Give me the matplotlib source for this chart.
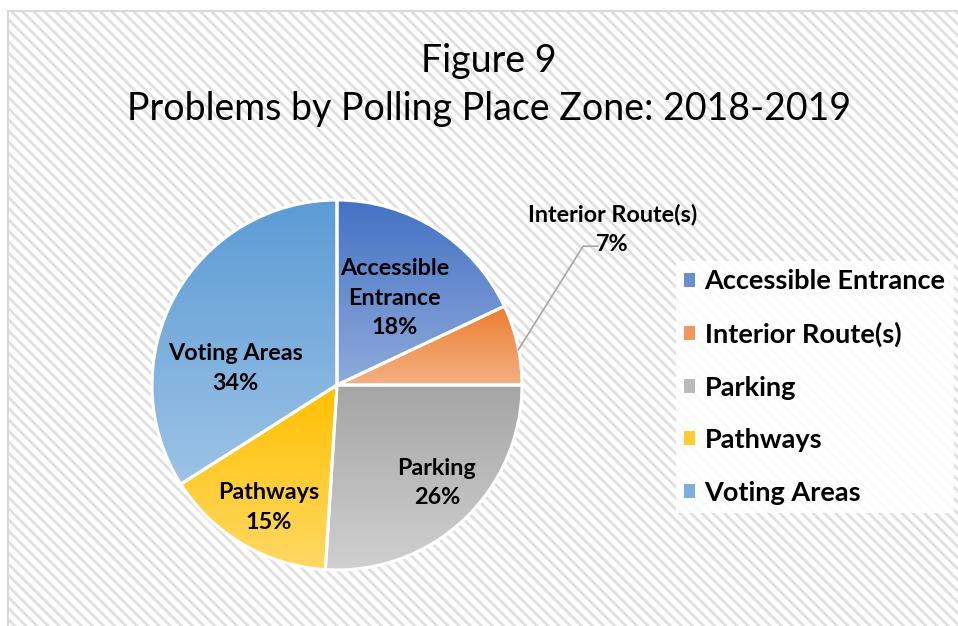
import numpy as np
import matplotlib
matplotlib.use("Agg")
import matplotlib.pyplot as plt
import matplotlib.patches as mpatches
from matplotlib.colors import LinearSegmentedColormap

# data ------------------------------------------------------------#
zones = ['Accessible Entrance', 'Interior Route(s)', 'Parking', 'Pathways', 'Voting Areas']
share = [18, 7, 26, 15, 34]
label_text = ['Accessible\nEntrance\n18%', 'Interior Route(s)\n7%', 'Parking\n26%',
              'Pathways\n15%', 'Voting Areas\n34%']

top_col = ['#4472C4', '#ED7D31', '#A5A5A5', '#FFC000', '#5B9BD5']
bot_col = ['#8FAADC', '#F4B183', '#D0D0D0', '#FFD966', '#9DC3E6']
mid_col = ['#6A8ED0', '#F09760', '#BBBBBB', '#FFCC33', '#7CAFDD']

# label centres in radius units (Excel "best fit" places them by hand)
label_xy = [(0.31, 0.47), (1.49, 0.84), (0.54, -0.53), (-0.37, -0.66), (-0.55, 0.09)]

W, H = 958, 626
plt.rcParams['font.family'] = ['Lato', 'DejaVu Sans']
plt.rcParams['hatch.linewidth'] = 2.0

fig = plt.figure(figsize=(W/100, H/100), dpi=100)

# hatched chart area ----------------------------------------------#
bg = mpatches.Rectangle((8/W, -0.05), 1.0, 1 - 11/H + 0.05, transform=fig.transFigure,
                        facecolor='white', edgecolor='#e0e0e0', lw=0, hatch='\\\\\\', zorder=-5)
fig.add_artist(bg)
fig.add_artist(mpatches.Rectangle((8/W, -0.05), 1.0, 1 - 11/H + 0.05, transform=fig.transFigure,
                                  facecolor='none', edgecolor='#d9d9d9', lw=1.5, zorder=-4))

fig.text(0.51, 1 - 61/H, 'Figure 9', ha='center', va='center', fontsize=27)
fig.text(0.51, 1 - 109/H, 'Problems by Polling Place Zone: 2018-2019', ha='center', va='center', fontsize=27)

# pie -------------------------------------------------------------#
R = 185
cx, cy = 337, 626 - 385
lim = 1.05
ax = fig.add_axes([(cx - lim*R)/W, (cy - lim*R)/H, 2*lim*R/W, 2*lim*R/H])
ax.set_axis_off()
ax.patch.set_alpha(0)

wedges, _ = ax.pie(share, startangle=90, counterclock=False, radius=1, colors=mid_col,
                   wedgeprops=dict(linewidth=0))

grad = np.linspace(0, 1, 256).reshape(-1, 1)
for w, c0, c1 in zip(wedges, top_col, bot_col):
    bb = w.get_path().get_extents()
    cm = LinearSegmentedColormap.from_list('g', [c0, c1])
    im = ax.imshow(grad, cmap=cm, extent=(bb.x0, bb.x1, bb.y0, bb.y1), origin='upper',
                   aspect='auto', interpolation='bilinear', zorder=2)
    im.set_clip_path(w)
    ax.add_patch(mpatches.Wedge(w.center, w.r, w.theta1, w.theta2, facecolor='none',
                                edgecolor='white', lw=2.2, zorder=3))

for txt, (x, y) in zip(label_text, label_xy):
    ax.text(x, y, txt, ha='center', va='center', fontsize=16.8, fontweight='bold',
            linespacing=1.52, clip_on=False, zorder=5)

# leader line for the small slice
ax.plot([0.98, 1.33, 1.41], [0.19, 0.75, 0.75], color='#a6a6a6', lw=1.2, clip_on=False, zorder=4)

ax.set_xlim(-lim, lim)
ax.set_ylim(-lim, lim)
ax.set_aspect('equal')

# legend ----------------------------------------------------------#
handles = [mpatches.Patch(facecolor=c, edgecolor='none') for c in mid_col]
leg = fig.legend(handles, zones, loc='center left', bbox_to_anchor=(662/W, 1 - 387/H),
                 prop=dict(weight='bold', size=19.5), frameon=True,
                 handlelength=0.42, handleheight=0.42, handletextpad=0.35,
                 labelspacing=1.05, borderpad=0.3)
leg.get_frame().set_facecolor('white')
leg.get_frame().set_edgecolor('none')
leg.get_frame().set_alpha(0.85)
leg.get_frame().set_boxstyle('square', pad=0)

fig.savefig('out.png', dpi=100)
